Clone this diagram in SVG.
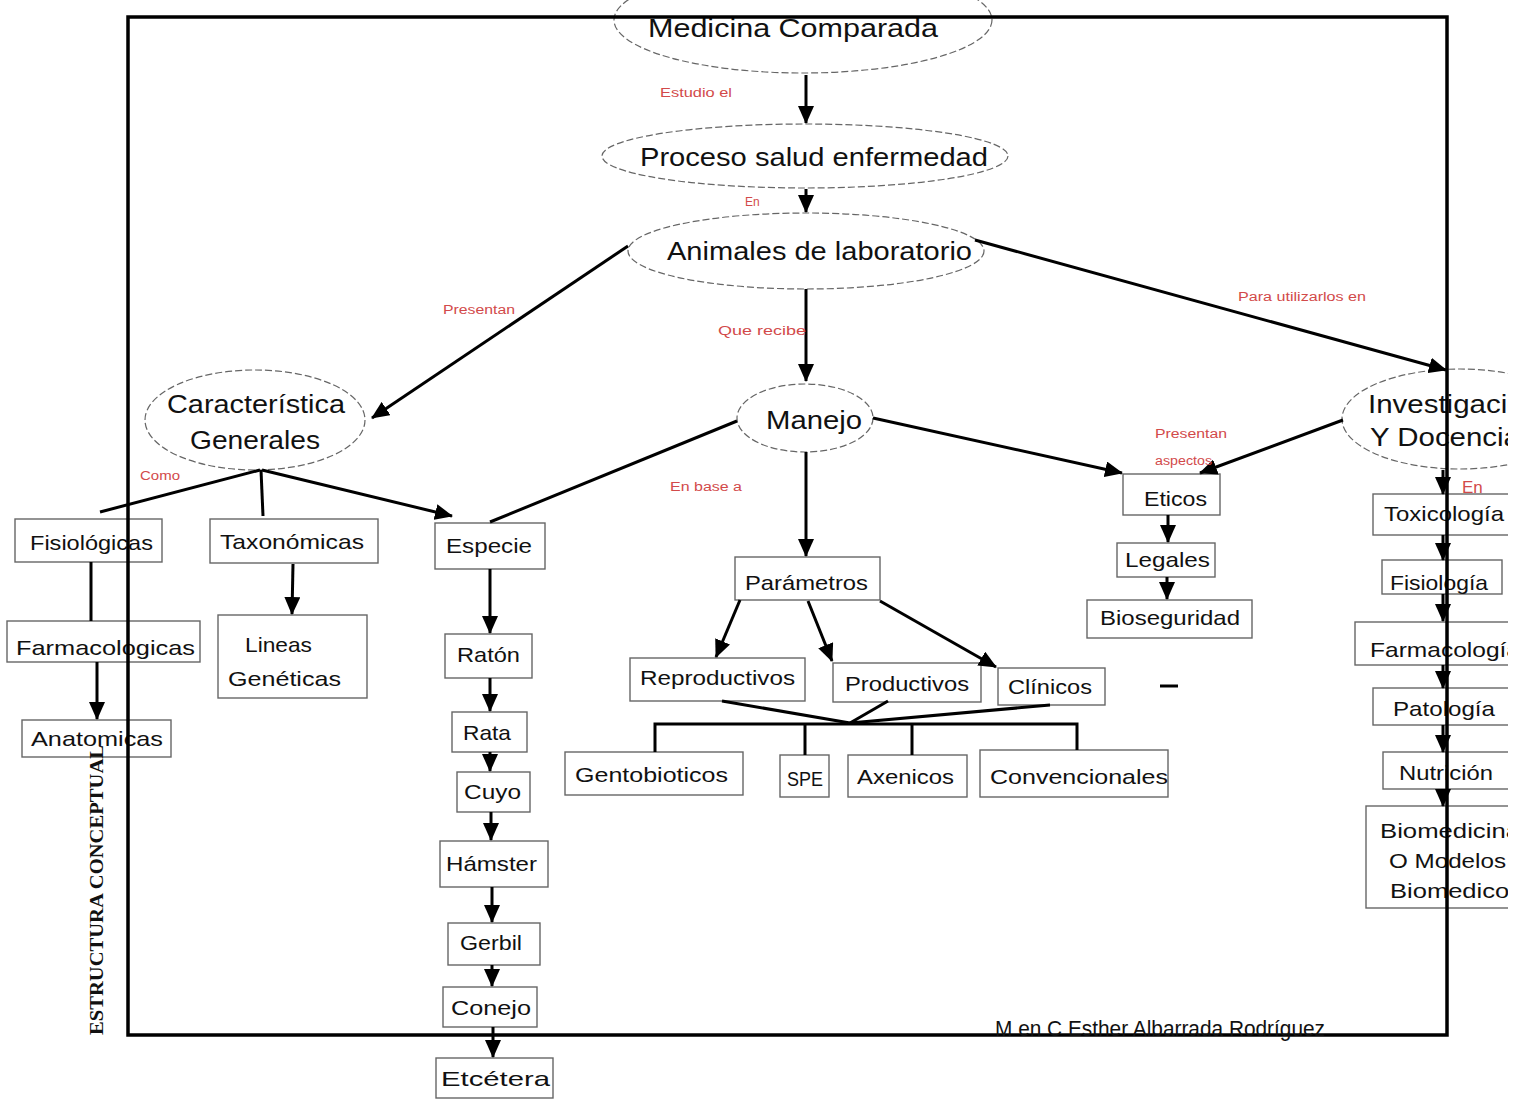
<svg xmlns="http://www.w3.org/2000/svg" width="1525" height="1106" viewBox="0 0 1525 1106">
<style>
.el{fill:none;stroke:#666;stroke-width:1.2;stroke-dasharray:7 3}
.bx{fill:none;stroke:#666;stroke-width:1.4}
.t{font-family:"Liberation Sans",Arial,sans-serif;fill:#111}
.e{font-size:25px}
.b{font-size:21px}
.r{font-family:"Liberation Sans",Arial,sans-serif;font-size:12px;fill:#d24a4a}
.c{stroke:#000;stroke-width:3;fill:none}
.a{marker-end:url(#ah)}
</style>
<defs>
<marker id="ah" markerWidth="18" markerHeight="16" refX="17" refY="8" orient="auto" markerUnits="userSpaceOnUse"><path d="M0,0 L18,8 L0,16 z" fill="#000"/></marker>
<clipPath id="cr"><rect x="0" y="0" width="1508" height="1106"/></clipPath>
</defs>
<rect width="1525" height="1106" fill="#fff"/>

<g id="medicina"><ellipse class="el" cx="803" cy="20" rx="189" ry="53"/><text class="t e" x="648" y="37" textLength="290" lengthAdjust="spacingAndGlyphs">Medicina Comparada</text></g>
<g id="proceso"><ellipse class="el" cx="805" cy="156" rx="203" ry="32"/><text class="t e" x="640" y="166" textLength="348" lengthAdjust="spacingAndGlyphs">Proceso salud enfermedad</text></g>
<g id="animales"><ellipse class="el" cx="806" cy="251" rx="178" ry="38"/><text class="t e" x="667" y="260" textLength="305" lengthAdjust="spacingAndGlyphs">Animales de laboratorio</text></g>
<g id="caracteristica"><ellipse class="el" cx="255" cy="420" rx="110" ry="50"/><text class="t e" x="167" y="413" textLength="178" lengthAdjust="spacingAndGlyphs">Característica</text><text class="t e" x="190" y="449" textLength="130" lengthAdjust="spacingAndGlyphs">Generales</text></g>
<g id="manejo"><ellipse class="el" cx="805" cy="418" rx="68" ry="34"/><text class="t e" x="766" y="429" textLength="96" lengthAdjust="spacingAndGlyphs">Manejo</text></g>
<g id="investigacion" clip-path="url(#cr)"><ellipse class="el" cx="1460" cy="419" rx="118" ry="50"/><text class="t e" x="1368" y="413" textLength="172" lengthAdjust="spacingAndGlyphs">Investigación</text><text class="t e" x="1370" y="446" textLength="150" lengthAdjust="spacingAndGlyphs">Y Docencia</text></g>

<g id="fisiologicas"><rect class="bx" x="15" y="519" width="147" height="43"/><text class="t b" x="30" y="550" textLength="123" lengthAdjust="spacingAndGlyphs">Fisiológicas</text></g>
<g id="taxonomicas"><rect class="bx" x="210" y="519" width="168" height="44"/><text class="t b" x="220" y="549" textLength="144" lengthAdjust="spacingAndGlyphs">Taxonómicas</text></g>
<g id="especie"><rect class="bx" x="435" y="523" width="110" height="46"/><text class="t b" x="446" y="553" textLength="86" lengthAdjust="spacingAndGlyphs">Especie</text></g>
<g id="farmacologicas"><rect class="bx" x="7" y="621" width="193" height="41"/><text class="t b" x="16" y="655" textLength="179" lengthAdjust="spacingAndGlyphs">Farmacologicas</text></g>
<g id="lineas"><rect class="bx" x="218" y="615" width="149" height="83"/><text class="t b" x="245" y="652" textLength="67" lengthAdjust="spacingAndGlyphs">Lineas</text><text class="t b" x="228" y="686" textLength="113" lengthAdjust="spacingAndGlyphs">Genéticas</text></g>
<g id="anatomicas"><rect class="bx" x="22" y="720" width="149" height="37"/><text class="t b" x="31" y="746" textLength="132" lengthAdjust="spacingAndGlyphs">Anatomicas</text></g>
<g id="raton"><rect class="bx" x="445" y="634" width="87" height="44"/><text class="t b" x="457" y="662" textLength="63" lengthAdjust="spacingAndGlyphs">Ratón</text></g>
<g id="rata"><rect class="bx" x="452" y="712" width="75" height="40"/><text class="t b" x="463" y="740" textLength="48" lengthAdjust="spacingAndGlyphs">Rata</text></g>
<g id="cuyo"><rect class="bx" x="457" y="772" width="73" height="40"/><text class="t b" x="464" y="799" textLength="57" lengthAdjust="spacingAndGlyphs">Cuyo</text></g>
<g id="hamster"><rect class="bx" x="440" y="841" width="108" height="46"/><text class="t b" x="446" y="871" textLength="91" lengthAdjust="spacingAndGlyphs">Hámster</text></g>
<g id="gerbil"><rect class="bx" x="448" y="923" width="92" height="42"/><text class="t b" x="460" y="950" textLength="62" lengthAdjust="spacingAndGlyphs">Gerbil</text></g>
<g id="conejo"><rect class="bx" x="443" y="987" width="94" height="40"/><text class="t b" x="451" y="1015" textLength="80" lengthAdjust="spacingAndGlyphs">Conejo</text></g>
<g id="etcetera"><rect class="bx" x="436" y="1058" width="117" height="40"/><text class="t b" x="441" y="1086" textLength="109" lengthAdjust="spacingAndGlyphs">Etcétera</text></g>
<g id="parametros"><rect class="bx" x="735" y="557" width="145" height="43"/><text class="t b" x="745" y="590" textLength="123" lengthAdjust="spacingAndGlyphs">Parámetros</text></g>
<g id="reproductivos"><rect class="bx" x="630" y="658" width="175" height="43"/><text class="t b" x="640" y="685" textLength="155" lengthAdjust="spacingAndGlyphs">Reproductivos</text></g>
<g id="productivos"><rect class="bx" x="833" y="663" width="148" height="39"/><text class="t b" x="845" y="691" textLength="124" lengthAdjust="spacingAndGlyphs">Productivos</text></g>
<g id="clinicos"><rect class="bx" x="998" y="668" width="107" height="37"/><text class="t b" x="1008" y="694" textLength="84" lengthAdjust="spacingAndGlyphs">Clínicos</text></g>
<g id="gentobioticos"><rect class="bx" x="565" y="752" width="178" height="43"/><text class="t b" x="575" y="782" textLength="153" lengthAdjust="spacingAndGlyphs">Gentobioticos</text></g>
<g id="spe"><rect class="bx" x="780" y="755" width="49" height="42"/><text class="t b" x="787" y="786" textLength="36" lengthAdjust="spacingAndGlyphs">SPE</text></g>
<g id="axenicos"><rect class="bx" x="848" y="755" width="119" height="42"/><text class="t b" x="857" y="784" textLength="97" lengthAdjust="spacingAndGlyphs">Axenicos</text></g>
<g id="convencionales"><rect class="bx" x="980" y="750" width="188" height="47"/><text class="t b" x="990" y="784" textLength="178" lengthAdjust="spacingAndGlyphs">Convencionales</text></g>
<g id="eticos"><rect class="bx" x="1123" y="474" width="97" height="41"/><text class="t b" x="1144" y="506" textLength="63" lengthAdjust="spacingAndGlyphs">Eticos</text></g>
<g id="legales"><rect class="bx" x="1117" y="543" width="98" height="34"/><text class="t b" x="1125" y="567" textLength="85" lengthAdjust="spacingAndGlyphs">Legales</text></g>
<g id="bioseguridad"><rect class="bx" x="1087" y="600" width="165" height="38"/><text class="t b" x="1100" y="625" textLength="140" lengthAdjust="spacingAndGlyphs">Bioseguridad</text></g>
<g clip-path="url(#cr)">
<g id="toxicologia"><rect class="bx" x="1373" y="494" width="160" height="41"/><text class="t b" x="1384" y="521" textLength="120" lengthAdjust="spacingAndGlyphs">Toxicología</text></g>
<g id="fisiologia"><rect class="bx" x="1382" y="560" width="120" height="34"/><text class="t b" x="1390" y="590" textLength="98" lengthAdjust="spacingAndGlyphs">Fisiología</text></g>
<g id="farmacologia"><rect class="bx" x="1355" y="622" width="180" height="43"/><text class="t b" x="1370" y="657" textLength="150" lengthAdjust="spacingAndGlyphs">Farmacología</text></g>
<g id="patologia"><rect class="bx" x="1373" y="688" width="160" height="37"/><text class="t b" x="1393" y="716" textLength="102" lengthAdjust="spacingAndGlyphs">Patología</text></g>
<g id="nutricion"><rect class="bx" x="1383" y="752" width="150" height="37"/><text class="t b" x="1399" y="780" textLength="94" lengthAdjust="spacingAndGlyphs">Nutrición</text></g>
<g id="biomedicina"><rect class="bx" x="1366" y="806" width="170" height="102"/><text class="t b" x="1380" y="838" textLength="140" lengthAdjust="spacingAndGlyphs">Biomedicina</text><text class="t b" x="1389" y="868" textLength="117" lengthAdjust="spacingAndGlyphs">O Modelos</text><text class="t b" x="1390" y="898" textLength="132" lengthAdjust="spacingAndGlyphs">Biomedicos</text></g>
</g>

<g id="connectors">
<line class="c a" x1="806" y1="75" x2="806" y2="123"/>
<line class="c a" x1="806" y1="189" x2="806" y2="212"/>
<line class="c a" x1="628" y1="246" x2="372" y2="418"/>
<line class="c a" x1="806" y1="289" x2="806" y2="381"/>
<line class="c a" x1="975" y1="240" x2="1446" y2="370"/>
<line class="c" x1="260" y1="470" x2="100" y2="512"/>
<line class="c" x1="261" y1="470" x2="263" y2="516"/>
<line class="c a" x1="262" y1="470" x2="452" y2="516"/>
<line class="c" x1="737" y1="421" x2="490" y2="522"/>
<line class="c a" x1="806" y1="452" x2="806" y2="556"/>
<line class="c a" x1="873" y1="418" x2="1122" y2="473"/>
<line class="c a" x1="1343" y1="420" x2="1200" y2="473"/>
<line class="c" x1="91" y1="562" x2="91" y2="621"/>
<line class="c a" x1="97" y1="662" x2="97" y2="719"/>
<line class="c a" x1="293" y1="564" x2="292" y2="614"/>
<line class="c a" x1="490" y1="569" x2="490" y2="633"/>
<line class="c a" x1="490" y1="678" x2="490" y2="711"/>
<line class="c a" x1="490" y1="752" x2="490" y2="771"/>
<line class="c a" x1="491" y1="812" x2="491" y2="840"/>
<line class="c a" x1="492" y1="887" x2="492" y2="922"/>
<line class="c a" x1="492" y1="965" x2="492" y2="986"/>
<line class="c a" x1="493" y1="1027" x2="493" y2="1057"/>
<line class="c a" x1="740" y1="600" x2="716" y2="657"/>
<line class="c a" x1="808" y1="601" x2="832" y2="661"/>
<line class="c a" x1="880" y1="601" x2="996" y2="667"/>
<line class="c" x1="722" y1="701" x2="850" y2="723"/>
<line class="c" x1="888" y1="701" x2="850" y2="723"/>
<line class="c" x1="1050" y1="705" x2="850" y2="723"/>
<polyline class="c" points="655,752 655,724 1077,724 1077,750"/>
<line class="c" x1="805" y1="724" x2="805" y2="755"/>
<line class="c" x1="912" y1="724" x2="912" y2="755"/>
<line class="c a" x1="1168" y1="515" x2="1168" y2="542"/>
<line class="c a" x1="1167" y1="577" x2="1167" y2="599"/>
<line class="c a" x1="1443" y1="470" x2="1443" y2="494"/>
<line class="c a" x1="1443" y1="535" x2="1443" y2="560"/>
<line class="c a" x1="1443" y1="594" x2="1443" y2="621"/>
<line class="c a" x1="1443" y1="665" x2="1443" y2="688"/>
<line class="c a" x1="1443" y1="725" x2="1443" y2="752"/>
<line class="c a" x1="1443" y1="789" x2="1443" y2="806"/>
<line class="c" x1="1160" y1="686" x2="1178" y2="686" stroke-width="2"/>
</g>

<g id="labels">
<text class="r" x="660" y="97" textLength="72" lengthAdjust="spacingAndGlyphs">Estudio el</text>
<text class="r" x="745" y="206">En</text>
<text class="r" x="443" y="314" textLength="72" lengthAdjust="spacingAndGlyphs">Presentan</text>
<text class="r" x="718" y="335" textLength="88" lengthAdjust="spacingAndGlyphs">Que recibe</text>
<text class="r" x="1238" y="301" textLength="128" lengthAdjust="spacingAndGlyphs">Para utilizarlos en</text>
<text class="r" x="140" y="480" textLength="40" lengthAdjust="spacingAndGlyphs">Como</text>
<text class="r" x="670" y="491" textLength="72" lengthAdjust="spacingAndGlyphs">En base a</text>
<text class="r" x="1155" y="438" textLength="72" lengthAdjust="spacingAndGlyphs">Presentan</text>
<text class="r" x="1155" y="465" textLength="57" lengthAdjust="spacingAndGlyphs">aspectos</text>
<text class="r" x="1462" y="493" style="font-size:17px">En</text>
</g>

<g id="frame"><rect x="128" y="17" width="1319" height="1018" fill="none" stroke="#000" stroke-width="3.5"/></g>

<text x="103" y="1035" transform="rotate(-90 103 1035)" font-family="Liberation Serif,serif" font-weight="bold" font-size="19" fill="#111" textLength="290" lengthAdjust="spacingAndGlyphs">ESTRUCTURA CONCEPTUAL</text>
<text x="995" y="1036" font-family="Liberation Sans,sans-serif" font-size="22" fill="#111" textLength="330" lengthAdjust="spacingAndGlyphs">M en C  Esther Albarrada Rodríguez</text>
</svg>
